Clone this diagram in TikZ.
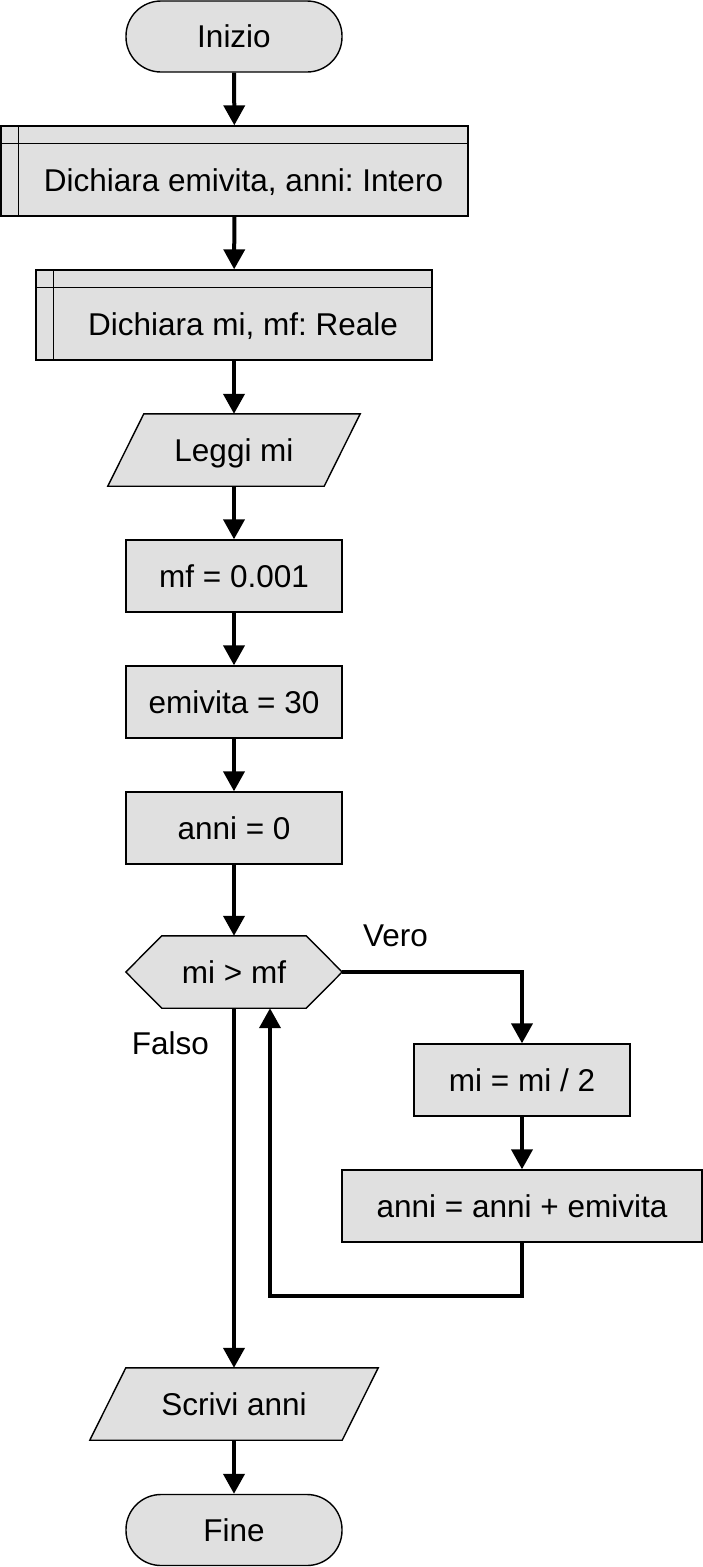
\documentclass[tikz,border=0pt]{standalone}
\usepackage{fontspec}
\setmainfont{Liberation Sans}
\frenchspacing
\usetikzlibrary{arrows.meta,backgrounds,calc}
\definecolor{boxfill}{HTML}{E0E0E0}
\tikzset{
  x=1pt, y=-1pt,
  every node/.style={font=\fontsize{31.5}{38}\selectfont, inner sep=0pt, text height=22.5pt, text depth=0pt},
  shp/.style={fill=boxfill, draw=black, line width=1.4pt},
  proc/.style={shp, rectangle, minimum width=216pt, minimum height=72pt},
  term/.style={shp, rectangle, rounded corners=35pt, minimum width=216pt, minimum height=71pt},
  decl/.style={shp, rectangle, minimum height=90pt, text height=40.5pt},
  core/.style={rectangle, minimum width=216pt, minimum height=72pt},
  flow/.style={line width=4pt, -{Triangle[width=21pt,length=20pt]}},
  lbl/.style={}
}
\begin{document}
\begin{tikzpicture}
\useasboundingbox (0,0) rectangle (703,1567);

\node[term] (start) at (234,36.5) {Inizio};
\node[decl, minimum width=467pt] (d1) at (234.5,171) {\hspace*{18pt}Dichiara emivita, anni: Intero};
\draw[line width=1.4pt] ([xshift=18pt]d1.north west) -- ([xshift=18pt]d1.south west)
      ([yshift=-18pt]d1.north west) -- ([yshift=-18pt]d1.north east);
\node[decl, minimum width=396pt] (d2) at (234,315) {\hspace*{18pt}Dichiara mi, mf: Reale};
\draw[line width=1.4pt] ([xshift=18pt]d2.north west) -- ([xshift=18pt]d2.south west)
      ([yshift=-18pt]d2.north west) -- ([yshift=-18pt]d2.north east);

\node[core] (read) at (234,450) {Leggi mi};
\node[proc] (mf) at (234,576) {mf = 0.001};
\node[proc] (emi) at (234,702) {emivita = 30};
\node[proc] (anni0) at (234,828) {anni = 0};
\node[core] (cond) at (234,972) {mi > mf};
\node[proc] (half) at (522,1080) {mi = mi / 2};
\node[proc, minimum width=360pt] (add) at (522,1206) {anni = anni + emivita};
\node[core, minimum width=252pt] (write) at (234,1404) {Scrivi anni};
\node[term] (end) at (234,1530) {Fine};

\node[lbl] (vero) at (395.5,935.5) {Vero};
\node[lbl] (falso) at (170.5,1043.5) {Falso};

\begin{scope}[on background layer]
\fill[white] (0,0) rectangle (703,1567);
\draw[shp] ([xshift=18pt]read.north west) -- ([xshift=18pt]read.north east)
  -- ([xshift=-18pt]read.south east) -- ([xshift=-18pt]read.south west) -- cycle;
\draw[shp] ([xshift=18pt]write.north west) -- ([xshift=18pt]write.north east)
  -- ([xshift=-18pt]write.south east) -- ([xshift=-18pt]write.south west) -- cycle;
\draw[shp] (cond.west) -- ([xshift=36pt]cond.north west) -- ([xshift=-36pt]cond.north east)
  -- (cond.east) -- ([xshift=-36pt]cond.south east) -- ([xshift=36pt]cond.south west) -- cycle;
\end{scope}

\draw[flow] (start) -- (d1);
\draw[flow] (d1) -- (d2);
\draw[flow] (d2) -- (read);
\draw[flow] (read) -- (mf);
\draw[flow] (mf) -- (emi);
\draw[flow] (emi) -- (anni0);
\draw[flow] (anni0) -- (cond);
\draw[flow] (cond.east) -| (half.north);
\draw[flow] (half) -- (add);
\coordinate (lp) at (270,1296);
\draw[flow] (add.south) |- (lp) -- (lp |- cond.south);
\draw[flow] (cond.south) -- (write.north);
\draw[flow] (write) -- (end);
\end{tikzpicture}
\end{document}
